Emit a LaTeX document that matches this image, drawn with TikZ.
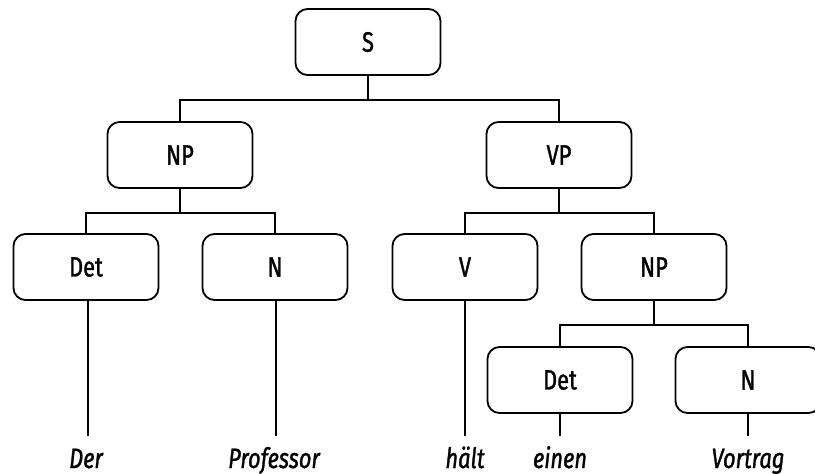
\documentclass[tikz,border=0pt]{standalone}
\usepackage{fontspec}
\setmainfont{Fira Sans}[FakeStretch=0.78,FakeBold=1.2]
\begin{document}
\begin{tikzpicture}[x=1pt,y=-1pt,
  box/.style={draw,line width=1.8pt,rounded corners=12pt,minimum width=145pt,minimum height=66pt,inner sep=0pt,font=\fontsize{28}{32}\selectfont},
  word/.style={inner sep=0pt,anchor=base,font=\fontsize{28}{32}\selectfont\itshape},
  edge/.style={line width=1.8pt}]
\useasboundingbox (0,0) rectangle (815,474);
\node[box] (S) at (368,42) {S};
\node[box] (NP1) at (180,155) {NP};
\node[box] (VP) at (559,155) {VP};
\node[box] (Det1) at (86,267) {Det};
\node[box] (N1) at (275,267) {N};
\node[box] (V) at (465,267) {V};
\node[box] (NP2) at (654,267) {NP};
\node[box] (Det2) at (560,380) {Det};
\node[box] (N2) at (748,380) {N};
\node[word] (w1) at (86,468) {Der};
\node[word] (w2) at (274,468) {Professor};
\node[word] (w3) at (465,468) {hält};
\node[word] (w4) at (560,468) {einen};
\node[word] (w5) at (748,468) {Vortrag};
\coordinate (wt1) at (88,436);
\coordinate (wt2) at (276,436);
\coordinate (wt3) at (465,436);
\coordinate (wt4) at (560,436);
\coordinate (wt5) at (748,436);
\draw[edge] (S.south) -- ++(0,24) -| (NP1.north);
\draw[edge] (S.south) ++(0,24) -| (VP.north);
\draw[edge] (NP1.south) -- ++(0,24) -| (Det1.north);
\draw[edge] (NP1.south) ++(0,24) -| (N1.north);
\draw[edge] (VP.south) -- ++(0,24) -| (V.north);
\draw[edge] (VP.south) ++(0,24) -| (NP2.north);
\draw[edge] (NP2.south) -- ++(0,24) -| (Det2.north);
\draw[edge] (NP2.south) ++(0,24) -| (N2.north);
\draw[edge] (Det1.south -| wt1) -- (wt1);
\draw[edge] (N1.south -| wt2) -- (wt2);
\draw[edge] (V.south) -- (wt3);
\draw[edge] (Det2.south) -- (wt4);
\draw[edge] (N2.south) -- (wt5);
\end{tikzpicture}
\end{document}
